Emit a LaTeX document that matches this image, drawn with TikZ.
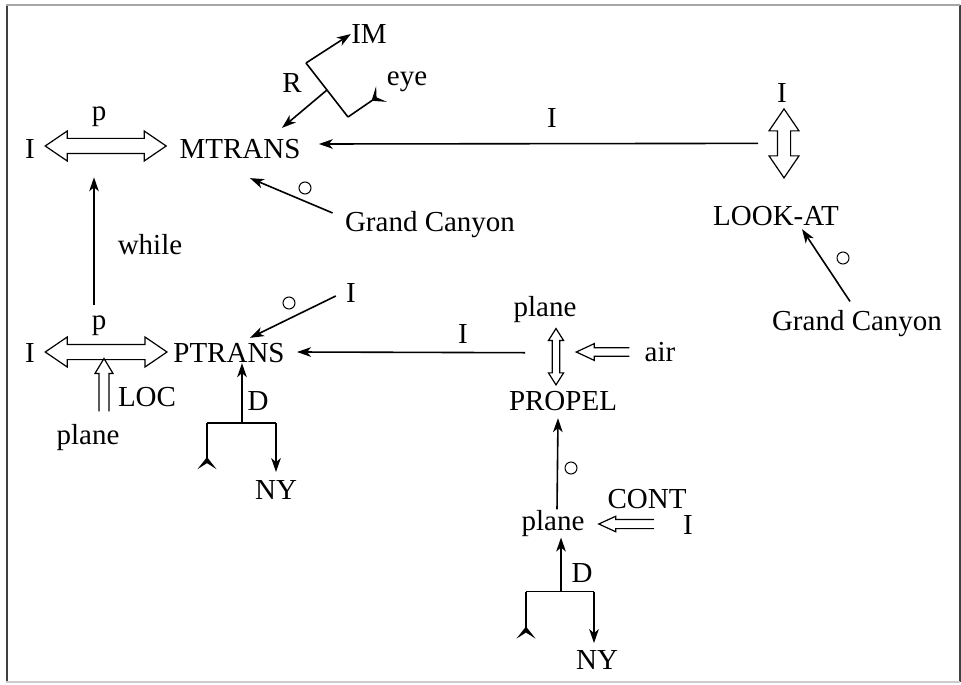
\documentclass[tikz,border=0pt]{standalone}
\usepackage{fontspec}
\setmainfont{Liberation Serif}
\usetikzlibrary{arrows.meta,positioning,calc}

% hollow double-headed arrow: tip, tip, head length, head half width, shaft half width
\newcommand{\hollowboth}[5]{%
	\draw[hollow] (#1) -- ($(#1)!#3!(#2)!#4!90:(#2)$) -- ($(#1)!#3!(#2)!#5!90:(#2)$)
	-- ($(#2)!#3!(#1)!#5!270:(#1)$) -- ($(#2)!#3!(#1)!#4!270:(#1)$) -- (#2)
	-- ($(#2)!#3!(#1)!#4!90:(#1)$) -- ($(#2)!#3!(#1)!#5!90:(#1)$)
	-- ($(#1)!#3!(#2)!#5!270:(#2)$) -- ($(#1)!#3!(#2)!#4!270:(#2)$) -- cycle;}
% hollow arrow with open tail: tail, tip, head length, head half width, shaft half width
\newcommand{\hollowone}[5]{%
	\draw[hollow] ($(#1)!#5!90:(#2)$) -- ($(#2)!#3!(#1)!#5!270:(#1)$)
	-- ($(#2)!#3!(#1)!#4!270:(#1)$) -- (#2) -- ($(#2)!#3!(#1)!#4!90:(#1)$)
	-- ($(#2)!#3!(#1)!#5!90:(#1)$) -- ($(#1)!#5!270:(#2)$);}

\begin{document}
\begin{tikzpicture}[x=0.5pt,y=-0.5pt,
	lbl/.style={inner sep=0pt,font=\fontsize{14.5}{17}\selectfont},
	cd/.style={-{Stealth[length=7pt,width=4.8pt,inset=2pt]},line width=0.8pt},
	tl/.style={-{Stealth[reversed,length=6pt,width=9.5pt,inset=3pt]},line width=0.8pt},
	mk/.style={circle,draw,line width=0.5pt,minimum size=6pt,inner sep=0pt},
	hollow/.style={line width=0.6pt,line join=miter}]
	\useasboundingbox (0,0) rectangle (961,684);
	
	% frame
	\draw[black!75,line width=1pt] (6.5,5)--(6.5,682);
	\draw[black!75,line width=1pt] (959.5,5)--(959.5,682);
	\draw[gray!70,line width=1pt] (6,5)--(960,5);
	\draw[gray!40,line width=0.8pt] (6,682)--(960,682);
	
	% MTRANS
	\node[lbl] (I1) at (30,149) {I};
	\node[lbl] (p1) at (99,117) {p};
	\node[lbl] (mtrans) at (240,149) {MTRANS};
	\node[lbl] (R) at (292,83) {R};
	\node[lbl] (IM) at (369,34) {IM};
	\node[lbl] (eye) at (407,82) {eye};
	\node[lbl] (gc1) at (430,225) {Grand Canyon};
	\node[mk] (o1) at (305,188) {};
	
	\coordinate (ha1) at ($(I1.east)+(10,-3)$);
	\coordinate (hb1) at ($(mtrans.west)+(-13,-3)$);
	\hollowboth{ha1}{hb1}{11pt}{7.5pt}{3.8pt}
	
	\coordinate (rTop) at (306,63);
	\coordinate (rBot) at (348,117);
	\coordinate (rMid) at ($(rTop)!0.5!(rBot)$);
	\draw[line width=0.8pt] (rTop)--(rBot);
	\draw[cd] (rTop)--(IM.west);
	\draw[tl] (rBot)--($(eye.west)+(-5,12)$);
	\draw[cd] (rMid)--($(mtrans.north)+(42,-11)$);
	\draw[cd] ($(gc1.west)+(-12,-12)$)--($(mtrans.south)+(10,19)$);
	
	% LOOK-AT
	\node[lbl] (lookI) at (782,93) {I};
	\node[lbl] (lookat) at (776,216) {LOOK-AT};
	\node[mk] (o4) at (843,258) {};
	\node[lbl] (gc2) at (857,324) {Grand Canyon};
	\node[lbl] (lI) at (552,118) {I};
	
	\coordinate (la) at ($(lookI.south)+(2,6)$);
	\coordinate (lb) at ($(lookat.north)+(8,-28)$);
	\hollowboth{la}{lb}{11pt}{7.5pt}{3.3pt}
	\draw[cd] ($(la)!0.5!(lb)+(-26,0)$)--($(mtrans.east)+(18,-5)$);
	\draw[cd] ($(gc2.north)+(-7,-9)$)--($(lookat.south)+(26,3)$);
	
	% PTRANS
	\node[lbl] (while) at (150,245) {while};
	\node[lbl] (I2) at (30,353) {I};
	\node[lbl] (p2) at (99,326) {p};
	\node[lbl] (ptrans) at (229,353) {PTRANS};
	\node[lbl] (LOC) at (147,397) {LOC};
	\node[lbl] (plane1) at (88,438) {plane};
	\node[mk] (o2) at (289,303) {};
	\node[lbl] (Ip) at (351,293) {I};
	\node[lbl] (D1) at (258,401) {D};
	\node[lbl] (NY1) at (276,490) {NY};
	\node[lbl] (I3) at (463,334) {I};
	
	\coordinate (ha2) at ($(I2.east)+(10,-1)$);
	\coordinate (hb2) at ($(ptrans.west)+(-6,-1)$);
	\hollowboth{ha2}{hb2}{11pt}{7.5pt}{3.8pt}
	\coordinate (lc1) at ($(plane1.north)+(16,-13)$);
	\coordinate (lc2) at ($(plane1.north)+(16,-66)$);
	\hollowone{lc1}{lc2}{7.5pt}{4.5pt}{2.5pt}
	
	\draw[cd] ($(p2.north)+(-5,-11)$)--($(p1.south)+(-5,50)$);
	\draw[cd] ($(Ip.west)+(-10,3)$)--($(ptrans.north)+(21,-5)$);
	
	\coordinate (d1) at ($(ptrans.south)+(13,60)$);
	\draw[cd] (d1)--($(ptrans.south)+(13,0)$);
	\draw[line width=0.8pt] ($(d1)+(-35,0)$)--($(d1)+(34,0)$);
	\draw[tl] ($(d1)+(-35,0)$)--($(d1)+(-35,46)$);
	\draw[cd] ($(d1)+(34,0)$)--($(NY1.north)+(0,-8)$);
	
	% PROPEL
	\node[lbl] (plane2) at (545,310) {plane};
	\node[lbl] (air) at (660,352) {air};
	\node[lbl] (propel) at (563,401) {PROPEL};
	\node[mk] (o3) at (571,468) {};
	\node[lbl] (plane3) at (553,524) {plane};
	\node[lbl] (CONT) at (647,499) {CONT};
	\node[lbl] (I4) at (688,525) {I};
	\node[lbl] (D2) at (582,573) {D};
	\node[lbl] (NY2) at (597,660) {NY};
	
	\coordinate (pa) at ($(plane2.south)+(11,5)$);
	\coordinate (pb) at ($(propel.north)+(-7,-6)$);
	\hollowboth{pa}{pb}{6pt}{3.8pt}{1.9pt}
	\coordinate (aa) at ($(air.west)+(-15,0)$);
	\coordinate (ab) at ($(air.west)+(-68,0)$);
	\hollowone{aa}{ab}{9pt}{4.2pt}{2.1pt}
	\coordinate (ca) at ($(plane3.east)+(69,0)$);
	\coordinate (cb) at ($(plane3.east)+(14,0)$);
	\hollowone{ca}{cb}{8.5pt}{3.9pt}{2.3pt}
	
	\draw[cd] ($(pa)!0.5!(pb)+(-31,-4)$)--($(ptrans.east)+(12,-1)$);
	\draw[cd] ($(plane3.north)+(4,-1)$)--($(propel.south)+(-5,7)$);
	
	\coordinate (d2) at ($(plane3.south)+(8,54)$);
	\draw[cd] (d2)--($(plane3.south)+(8,0)$);
	\draw[line width=0.8pt] ($(d2)+(-35,0)$)--($(d2)+(33,0)$);
	\draw[tl] ($(d2)+(-35,0)$)--($(d2)+(-35,47)$);
	\draw[cd] ($(d2)+(33,0)$)--($(NY2.north)+(-3,-7)$);
\end{tikzpicture}
\end{document}
